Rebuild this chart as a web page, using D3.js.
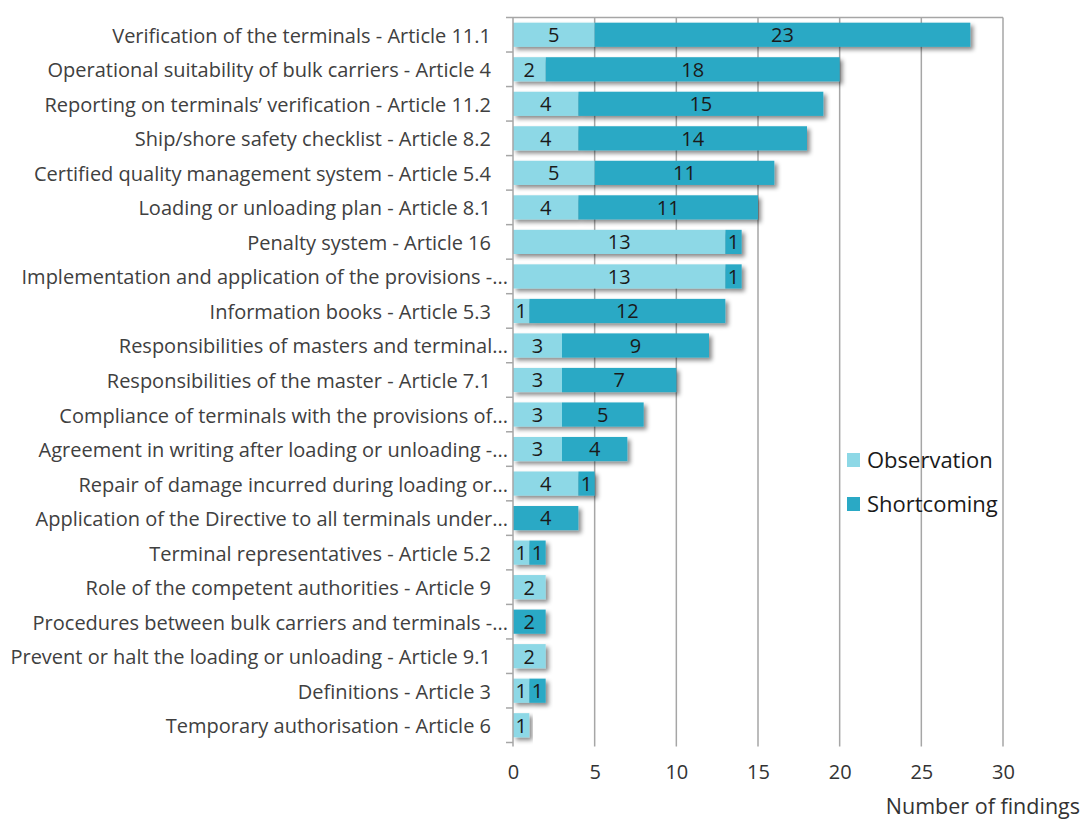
<!DOCTYPE html>
<html>
<head>
<meta charset="utf-8">
<script src="https://cdn.jsdelivr.net/npm/d3@7"></script>
<style>
  body { margin: 0; background: #fff; }
  text { font-family: "Open Sans", Lato, sans-serif; }
</style>
</head>
<body>
<script>
// categories, top to bottom
var categories = [
    "Verification of the terminals - Article 11.1",
    "Operational suitability of bulk carriers - Article 4",
    "Reporting on terminals\u2019 verification - Article 11.2",
    "Ship/shore safety checklist - Article 8.2",
    "Certified quality management system - Article 5.4",
    "Loading or unloading plan - Article 8.1",
    "Penalty system - Article 16",
    "Implementation and application of the provisions -...",
    "Information books - Article 5.3",
    "Responsibilities of masters and terminal...",
    "Responsibilities of the master - Article 7.1",
    "Compliance of terminals with the provisions of...",
    "Agreement in writing after loading or unloading -...",
    "Repair of damage incurred during loading or...",
    "Application of the Directive to all terminals under...",
    "Terminal representatives - Article 5.2",
    "Role of the competent authorities - Article 9",
    "Procedures between bulk carriers and terminals -...",
    "Prevent or halt the loading or unloading - Article 9.1",
    "Definitions - Article 3",
    "Temporary authorisation - Article 6"
];
var observation = [5, 2, 4, 4, 5, 4, 13, 13, 1, 3, 3, 3, 3, 4, 0, 1, 2, 0, 2, 1, 1];
var shortcoming = [23, 18, 15, 14, 11, 11, 1, 1, 12, 9, 7, 5, 4, 1, 4, 1, 0, 2, 0, 1, 0];
var xticks = [0, 5, 10, 15, 20, 25, 30];
var seriesNames = ["Observation", "Shortcoming"];
var colors = ["#8dd8e6", "#2aa9c5"];

var W = 1083, H = 819;
var plotLeft = 513, plotRight = 1003, plotTop = 17.5, plotBottom = 742.5;

var svg = d3.select("body").append("svg")
    .attr("width", W).attr("height", H);

// soft drop shadow for bars
var defs = svg.append("defs");
var f = defs.append("filter").attr("id", "shadow")
    .attr("x", "-10%").attr("y", "-30%").attr("width", "130%").attr("height", "180%");
f.append("feDropShadow").attr("dx", 3).attr("dy", 3).attr("stdDeviation", 2)
    .attr("flood-color", "#000").attr("flood-opacity", 0.45);

var x = d3.scaleLinear().domain([0, 30]).range([plotLeft, plotRight]);
var y = d3.scaleBand().domain(categories).range([plotTop, plotBottom])
    .paddingInner(0.3).paddingOuter(0.15);

// gridlines
svg.append("g").selectAll("line")
    .data(xticks.slice(1)).enter().append("line")
    .attr("x1", d => x(d)).attr("x2", d => x(d))
    .attr("y1", plotTop).attr("y2", plotBottom + 4)
    .attr("stroke", "#a6a6a6").attr("stroke-width", 1.5);
svg.append("line")
    .attr("x1", plotLeft).attr("x2", plotRight).attr("y1", plotTop).attr("y2", plotTop)
    .attr("stroke", "#a6a6a6").attr("stroke-width", 1.5);

// bars
var rows = categories.map(function(c, i) {
    return {cat: c, obs: observation[i], sh: shortcoming[i]};
});
var g = svg.append("g").selectAll("g").data(rows).enter().append("g")
    .attr("filter", "url(#shadow)");
g.append("rect")
    .attr("x", x(0)).attr("y", d => y(d.cat))
    .attr("width", d => x(d.obs) - x(0)).attr("height", y.bandwidth())
    .attr("fill", colors[0]);
g.append("rect")
    .attr("x", d => x(d.obs)).attr("y", d => y(d.cat))
    .attr("width", d => x(d.obs + d.sh) - x(d.obs)).attr("height", y.bandwidth())
    .attr("fill", colors[1]);

// value labels
var lab = svg.append("g").attr("font-size", "20px").attr("fill", "#1a1a1a")
    .attr("text-anchor", "middle");
rows.forEach(function(d) {
    var cy = y(d.cat) + y.bandwidth() / 2;
    if (d.obs > 0) lab.append("text").attr("x", (x(0) + x(d.obs)) / 2).attr("y", cy)
        .attr("dy", "0.37em").text(d.obs);
    if (d.sh > 0) lab.append("text").attr("x", (x(d.obs) + x(d.obs + d.sh)) / 2).attr("y", cy)
        .attr("dy", "0.37em").text(d.sh);
});

// left axis with category labels
var ya = svg.append("g").attr("transform", "translate(" + plotLeft + ",0)")
    .call(d3.axisLeft(y).tickSize(0).tickPadding(22));
ya.select(".domain").remove();
ya.selectAll("text").attr("font-size", "20px").attr("fill", "#404040")
    .attr("dy", "0.4em")
    .attr("x", d => d.endsWith("...") ? -5 : -22);
svg.append("line").attr("x1", plotLeft).attr("x2", plotLeft).attr("y1", plotTop).attr("y2", plotBottom + 4)
    .attr("stroke", "#a6a6a6").attr("stroke-width", 1.5);
svg.append("g").selectAll("line")
    .data(d3.range(categories.length + 1)).enter().append("line")
    .attr("x1", plotLeft - 7).attr("x2", plotLeft)
    .attr("y1", i => plotTop + i * y.step()).attr("y2", i => plotTop + i * y.step())
    .attr("stroke", "#a6a6a6").attr("stroke-width", 1.5);

// bottom axis labels
var xa = svg.append("g").attr("transform", "translate(0," + (plotBottom + 4) + ")")
    .call(d3.axisBottom(x).tickValues(xticks).tickSize(0).tickPadding(18));
xa.select(".domain").remove();
xa.selectAll("text").attr("font-size", "20px").attr("fill", "#333");

svg.append("text").attr("x", 1080).attr("y", 814).attr("text-anchor", "end")
    .attr("font-size", "21.5px").attr("fill", "#333").text("Number of findings");

// legend
var leg = svg.append("g").attr("transform", "translate(847,453)");
seriesNames.forEach(function(s, i) {
    leg.append("rect").attr("x", 0).attr("y", i * 44).attr("width", 13).attr("height", 14)
        .attr("fill", colors[i]);
    leg.append("text").attr("x", 20).attr("y", i * 44 + 7).attr("dy", "0.37em")
        .attr("font-size", "22px").attr("fill", "#1a1a1a").text(s);
});
</script>
</body>
</html>
